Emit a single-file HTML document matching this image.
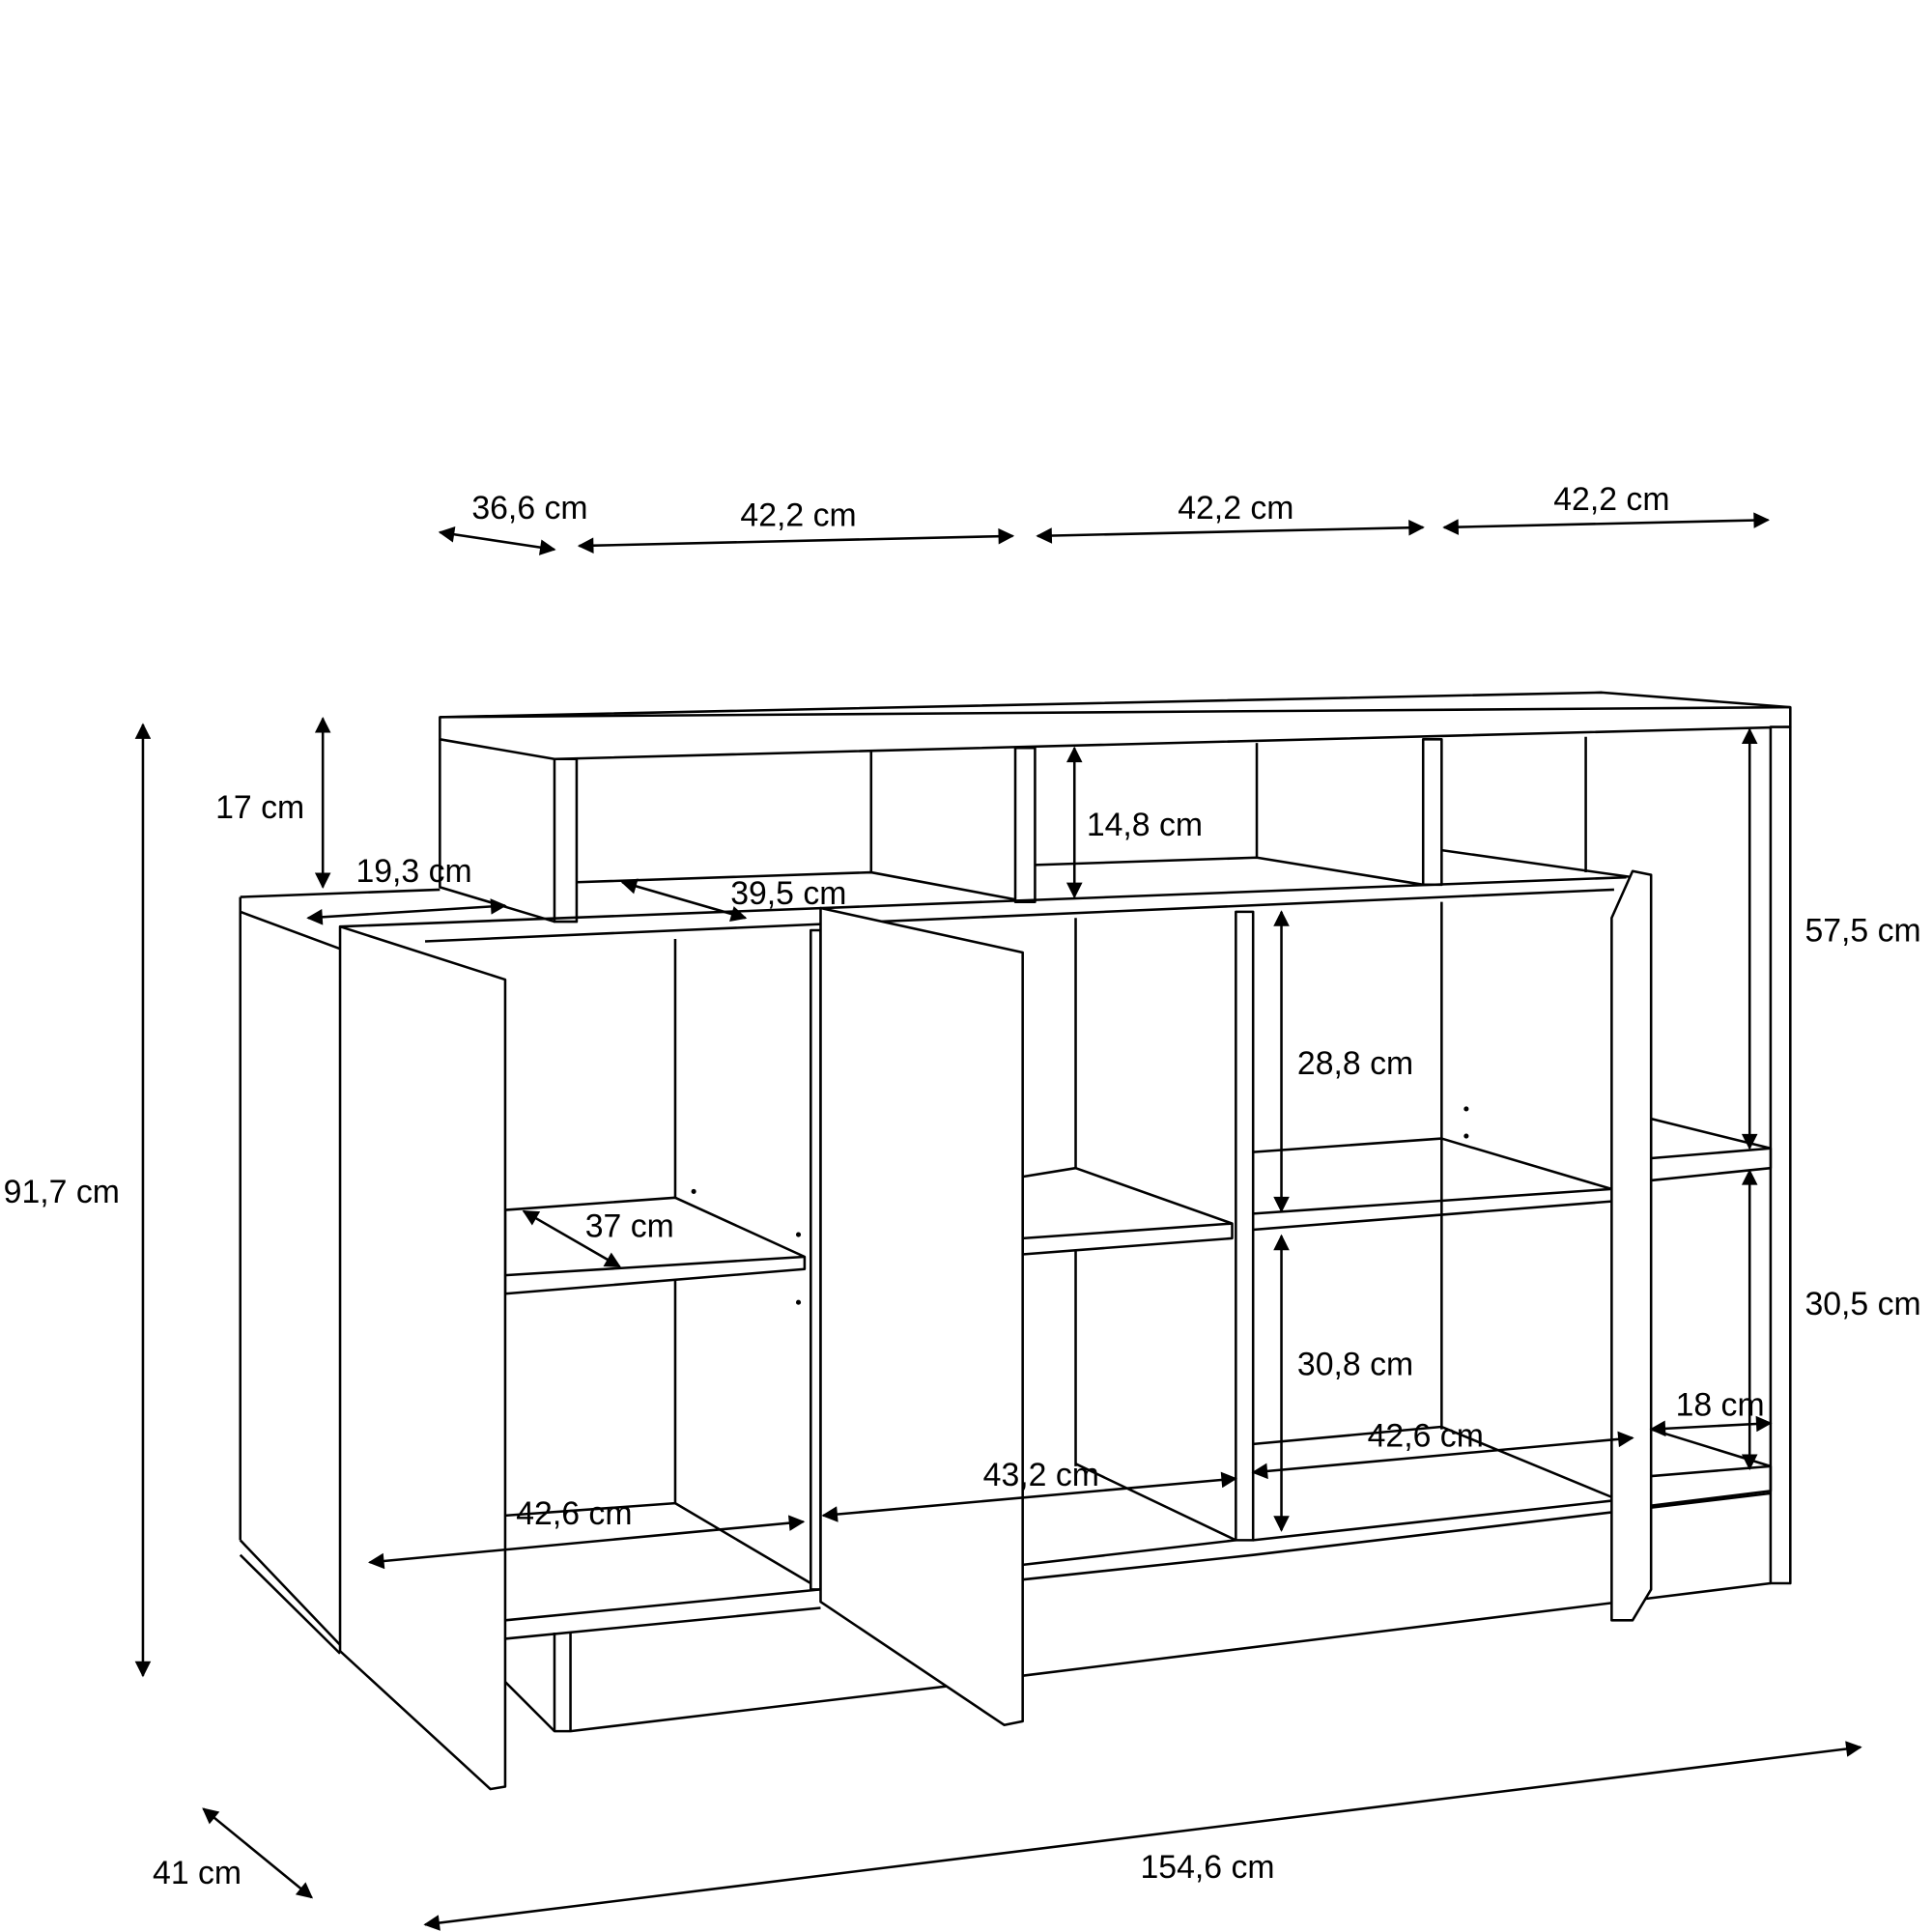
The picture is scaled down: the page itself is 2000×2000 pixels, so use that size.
<!DOCTYPE html>
<html><head><meta charset="utf-8"><style>html,body{margin:0;padding:0;background:#fff}svg{display:block}</style></head>
<body>
<svg width="2000" height="2000" viewBox="0 0 1568 1568" xmlns="http://www.w3.org/2000/svg">
<defs>
<marker id="a" viewBox="0 0 10 10" refX="9" refY="5" markerWidth="11" markerHeight="6.5" markerUnits="strokeWidth" orient="auto-start-reverse"><path d="M0,0 L10,5 L0,10 z" fill="#000"/></marker>
</defs>
<g fill="#fff" stroke="#000" stroke-width="2" stroke-linejoin="round">
<polygon points="357,582 1300,562 1453,574 1453,590 450,616 357,600"/>
<line x1="357" y1="582" x2="1453" y2="574"/>
<polyline fill="none" points="357,600 357,720 450,748"/>
<rect x="450" y="616" width="18" height="132"/>
<rect x="824" y="607" width="16" height="125"/>
<rect x="1155" y="600" width="15" height="118"/>
<rect x="1437" y="590" width="16" height="695"/>
<line x1="707" y1="610" x2="707" y2="708"/>
<line x1="1020" y1="603" x2="1020" y2="696"/>
<line x1="1287" y1="598" x2="1287" y2="708"/>
<polyline fill="none" points="468,716 707,708 824,730"/>
<polyline fill="none" points="840,702 1020,696 1155,718"/>
<polyline fill="none" points="1170,690 1325,712"/>
<polyline fill="none" points="195,728 357,722"/>
<polyline fill="none" points="195,728 195,740 276,770"/>
<line x1="345" y1="764" x2="1310" y2="722"/>
<line x1="276" y1="752" x2="1320" y2="712"/>
<line x1="195" y1="740" x2="195" y2="1250"/>
<polyline fill="none" points="195,1250 276,1335"/>
<polyline fill="none" points="195,1262 276,1342"/>
<line x1="548" y1="762" x2="548" y2="1220"/>
<rect x="658" y="755" width="8" height="535"/>
<polygon points="410,982 548,972 653,1020 653,1030 410,1050"/>
<line x1="410" y1="1035" x2="653" y2="1020"/>
<polyline fill="none" points="410,1230 548,1220 658,1285"/>
<polyline fill="none" points="410,1315 666,1290"/>
<polyline fill="none" points="410,1330 666,1305"/>
<line x1="450" y1="1325" x2="450" y2="1405"/>
<line x1="463" y1="1325" x2="463" y2="1405"/>
<polyline fill="none" points="410,1365 450,1405 463,1405 815,1363"/>
<polyline fill="none" points="830,1360 1437,1285"/>
<line x1="873" y1="745" x2="873" y2="1190"/>
<rect x="1003" y="740" width="14" height="510"/>
<polygon points="830,955 873,948 1000,993 1000,1005 830,1018"/>
<line x1="830" y1="1005" x2="1000" y2="993"/>
<polyline fill="none" points="873,1188 1003,1250"/>
<line x1="830" y1="1270" x2="1003" y2="1250"/>
<polyline fill="none" points="830,1282 1017,1262 1437,1212"/>
<line x1="1170" y1="732" x2="1170" y2="1160"/>
<polyline fill="none" points="1017,935 1170,924 1308,965"/>
<line x1="1017" y1="985" x2="1308" y2="965"/>
<line x1="1017" y1="998" x2="1308" y2="975"/>
<polygon points="1340,908 1437,932 1437,948 1340,958"/>
<line x1="1340" y1="940" x2="1437" y2="932"/>
<polyline fill="none" points="1017,1172 1170,1158 1308,1215"/>
<line x1="1017" y1="1250" x2="1308" y2="1218"/>
<polyline fill="none" points="1340,1160 1437,1190 1437,1210 1340,1222"/>
<line x1="1340" y1="1198" x2="1437" y2="1190"/>
<polygon points="276,752 410,795 410,1450 398,1452 276,1340"/>
<polygon points="666,737 830,773 830,1397 815,1400 666,1300"/>
<polygon points="1308,745 1325,707 1340,710 1340,1290 1325,1315 1308,1315"/>
</g>
<g fill="#000">
<circle cx="563" cy="967" r="2"/><circle cx="648" cy="1002" r="2"/><circle cx="648" cy="1057" r="2"/>
<circle cx="1190" cy="900" r="2"/><circle cx="1190" cy="922" r="2"/>
</g>
<g stroke="#000" stroke-width="2" fill="none" marker-start="url(#a)" marker-end="url(#a)">
<line x1="357" y1="432" x2="450" y2="446"/>
<line x1="470" y1="443" x2="822" y2="435"/>
<line x1="842" y1="435" x2="1155" y2="428"/>
<line x1="1172" y1="428" x2="1435" y2="422"/>
<line x1="262" y1="583" x2="262" y2="720"/>
<line x1="116" y1="588" x2="116" y2="1360"/>
<line x1="250" y1="745" x2="410" y2="735"/>
<line x1="505" y1="716" x2="605" y2="745"/>
<line x1="872" y1="607" x2="872" y2="728"/>
<line x1="1040" y1="740" x2="1040" y2="983"/>
<line x1="1420" y1="592" x2="1420" y2="932"/>
<line x1="1420" y1="950" x2="1420" y2="1192"/>
<line x1="425" y1="983" x2="503" y2="1028"/>
<line x1="1040" y1="1003" x2="1040" y2="1242"/>
<line x1="1340" y1="1160" x2="1437" y2="1155"/>
<line x1="1017" y1="1195" x2="1325" y2="1167"/>
<line x1="668" y1="1230" x2="1003" y2="1200"/>
<line x1="300" y1="1268" x2="652" y2="1235"/>
<line x1="345" y1="1562" x2="1510" y2="1418"/>
<line x1="165" y1="1468" x2="253" y2="1540"/>
</g>
<g font-family="Liberation Sans, sans-serif" font-size="26.5" text-anchor="middle" fill="#000">
<text x="430" y="421">36,6 cm</text>
<text x="648" y="427">42,2 cm</text>
<text x="1003" y="421">42,2 cm</text>
<text x="1308" y="414">42,2 cm</text>
<text x="211" y="664">17 cm</text>
<text x="50" y="976">91,7 cm</text>
<text x="336" y="716">19,3 cm</text>
<text x="640" y="734">39,5 cm</text>
<text x="929" y="678">14,8 cm</text>
<text x="1100" y="872">28,8 cm</text>
<text x="1512" y="764">57,5 cm</text>
<text x="1512" y="1067">30,5 cm</text>
<text x="511" y="1004">37 cm</text>
<text x="1100" y="1116">30,8 cm</text>
<text x="1396" y="1149">18 cm</text>
<text x="1157" y="1174">42,6 cm</text>
<text x="845" y="1206">43,2 cm</text>
<text x="466" y="1237">42,6 cm</text>
<text x="980" y="1524">154,6 cm</text>
<text x="160" y="1529">41 cm</text>
</g>
</svg>
</body></html>
